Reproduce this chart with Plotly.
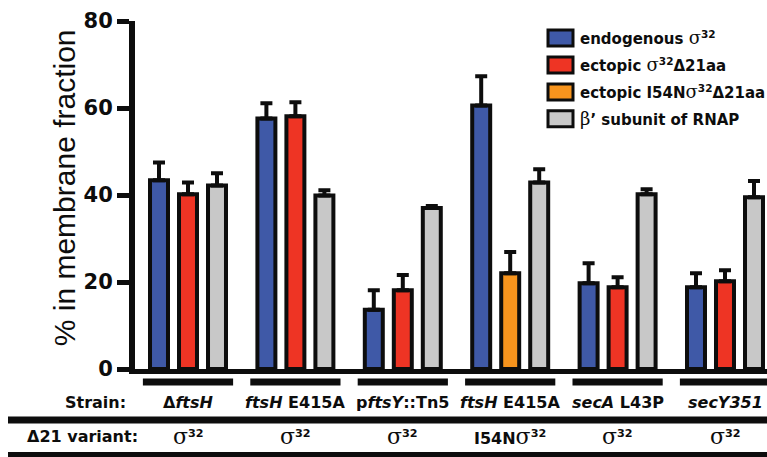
import plotly.graph_objects as go

# ---- data ----
strains = ["Δ<i>ftsH</i>", "<i>ftsH</i> E415A", "p<i>ftsY</i>::Tn5",
           "<i>ftsH</i> E415A", "<i>secA</i> L43P", "<i>secY351</i>"]
variants = ["σ32", "σ32", "σ32", "I54Nσ32", "σ32", "σ32"]

endogenous = [43.4, 57.6, 13.6, 60.6, 19.7, 18.8]
endogenous_err = [4.1, 3.5, 4.5, 6.7, 4.6, 3.2]
ectopic = [40.2, 58.1, 18.1, None, 18.8, 20.2]
ectopic_err = [2.7, 3.2, 3.5, 0, 2.3, 2.5]
ectopic_i54n = [None, None, None, 22.0, None, None]
ectopic_i54n_err = [0, 0, 0, 4.9, 0, 0]
beta = [42.2, 39.9, 37.0, 42.9, 40.2, 39.5]
beta_err = [2.8, 1.2, 0.5, 3.0, 1.1, 3.7]

y_ticks = [0, 20, 40, 60, 80]

# ---- style ----
W, H = 767, 457
PL, PR, PT, PB = 135, 767, 20.5, 369  # plot area in pixels
C_BLUE, C_RED, C_ORANGE, C_GRAY = "#3F59A7", "#EE3424", "#F7941D", "#C8C8C8"
INK = "#0d0d0d"
SANS = "DejaVu Sans"
SERIF = "DejaVu Serif"


def px(xp):
    return (xp - PL) / (PR - PL)


def py(yp):
    return (PB - yp) / (PB - PT)


x = list(range(len(strains)))
fig = go.Figure()
series = [
    ("endogenous σ32", endogenous, endogenous_err, C_BLUE, "a"),
    ("ectopic σ32Δ21aa", ectopic, ectopic_err, C_RED, "b"),
    ("ectopic I54Nσ32Δ21aa", ectopic_i54n, ectopic_i54n_err, C_ORANGE, "b"),
    ("β' subunit of RNAP", beta, beta_err, C_GRAY, "c"),
]
for name, vals, err, col, og in series:
    fig.add_trace(go.Bar(
        x=x, y=vals, name=name, offsetgroup=og,
        marker=dict(color=col, line=dict(color=INK, width=4)),
        error_y=dict(type="data", array=err, arrayminus=[0] * len(err), symmetric=False,
                     color=INK, thickness=4, width=6),
        showlegend=False,
    ))

shapes = []
annotations = []

# group underline bars
for i in x:
    shapes.append(dict(type="line", xref="x", yref="paper", x0=i - 0.42, x1=i + 0.42,
                       y0=py(382), y1=py(382), line=dict(color=INK, width=7)))
# table lines
for yy, wd in [(420, 7), (455, 6)]:
    shapes.append(dict(type="line", xref="paper", yref="paper", x0=px(8), x1=1.0,
                       y0=py(yy), y1=py(yy), line=dict(color=INK, width=wd)))

lab_font = dict(family=SANS, size=16, color=INK, weight="bold")
annotations.append(dict(xref="paper", yref="paper", x=px(128), y=py(403), text="Strain:",
                        showarrow=False, xanchor="right", yanchor="middle", font=lab_font))
annotations.append(dict(xref="paper", yref="paper", x=px(140), y=py(437), text="Δ21 variant:",
                        showarrow=False, xanchor="right", yanchor="middle", font=lab_font))
for i, (s, v) in enumerate(zip(strains, variants)):
    annotations.append(dict(xref="x", yref="paper", x=i, y=py(403), text=s, showarrow=False,
                            xanchor="center", yanchor="middle", font=lab_font))
    vt = v.replace("32", "<sup>32</sup>")
    vt = vt.replace("σ", f"<span style=\"font-family:'{SERIF}';font-weight:normal;font-size:22px\">σ</span>")
    annotations.append(dict(xref="x", yref="paper", x=i, y=py(437), text=vt, showarrow=False,
                            xanchor="center", yanchor="middle", font=lab_font))

# y-axis title
annotations.append(dict(xref="paper", yref="paper", x=px(64), y=py(188),
                        text="% in membrane fraction", textangle=-90, showarrow=False,
                        xanchor="center", yanchor="middle",
                        font=dict(family="Liberation Sans", size=30, color=INK)))

# custom legend
leg_rows = [37.5, 64.5, 91.5, 118.5]
leg_text = ["endogenous σ<sup>32</sup>", "ectopic σ<sup>32</sup>Δ21aa",
            "ectopic I54Nσ<sup>32</sup>Δ21aa", "β’ subunit of RNAP"]
leg_cols = [C_BLUE, C_RED, C_ORANGE, C_GRAY]
for yc, t, col in zip(leg_rows, leg_text, leg_cols):
    shapes.append(dict(type="rect", xref="paper", yref="paper",
                       x0=px(548), x1=px(573), y0=py(yc - 8), y1=py(yc + 8),
                       fillcolor=col, line=dict(color=INK, width=3)))
    tt = t.replace("σ", f"<span style=\"font-family:'{SERIF}';font-weight:normal;font-size:18px\">σ</span>")
    tt = tt.replace("β", f"<span style=\"font-family:'{SERIF}';font-weight:normal;font-size:18px\">β</span>")
    annotations.append(dict(xref="paper", yref="paper", x=px(578), y=py(yc), text=tt,
                            showarrow=False, xanchor="left", yanchor="middle",
                            font=dict(family=SANS, size=15, color=INK, weight="bold")))

cw = 107.4
c0 = 188
fig.update_layout(
    width=W, height=H,
    margin=dict(l=PL, r=W - PR, t=PT, b=H - PB, pad=0),
    plot_bgcolor="white", paper_bgcolor="white",
    barmode="group", bargap=0.19, bargroupgap=0.38,
    xaxis=dict(range=[(PL - c0) / cw, (PR - c0) / cw], showline=True, linewidth=5,
               linecolor=INK, showticklabels=False, ticks="", showgrid=False, zeroline=False,
               fixedrange=True),
    yaxis=dict(range=[0, 80], tickvals=y_ticks, showline=True, linewidth=6, linecolor=INK,
               ticks="outside", ticklen=12, tickwidth=5, tickcolor=INK, showgrid=False,
               zeroline=False, tickfont=dict(family=SANS, size=21, color=INK, weight="bold")),
    shapes=shapes, annotations=annotations, showlegend=False,
)

fig.write_html("out.html", config={"displayModeBar": False},
               post_script="document.body.style.margin='0';document.body.style.overflow='hidden';")
